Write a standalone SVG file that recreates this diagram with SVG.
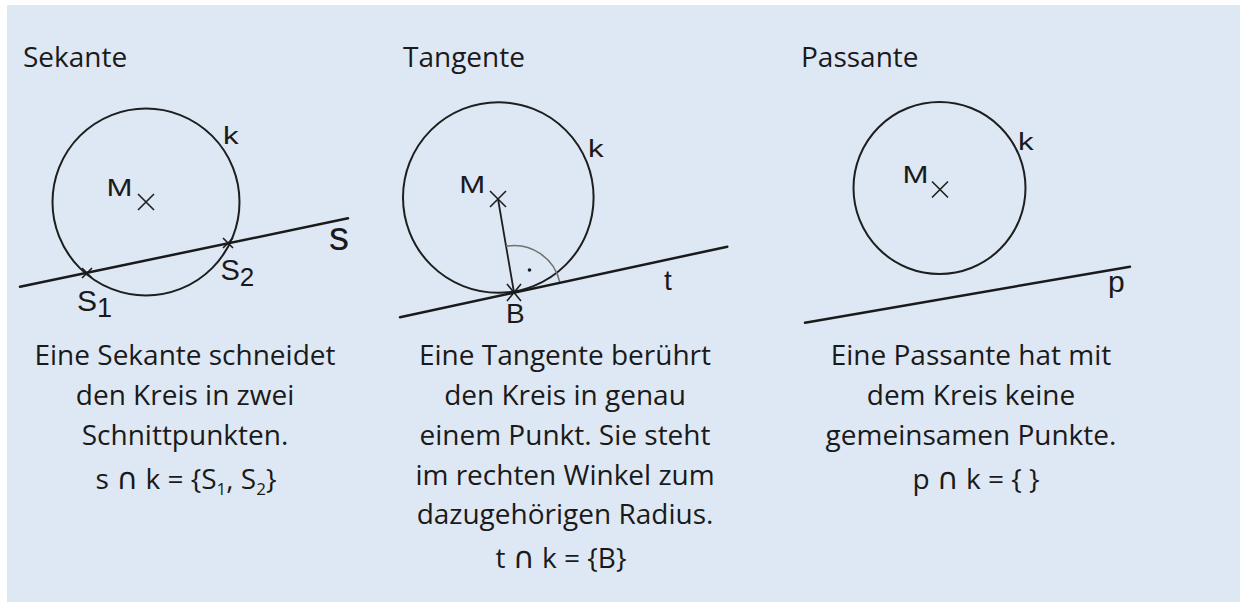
<svg xmlns="http://www.w3.org/2000/svg" width="1246" height="602" viewBox="0 0 1246 602">
<style>
.bg{fill:#dee8f4}
.title,.body{font-family:"Open Sans","Noto Sans","DejaVu Sans",sans-serif;fill:#1a1a1a}
.title{font-size:28px}
.body{font-size:28px;text-anchor:middle}
.sub{font-size:17px}
.cap{font-family:"DejaVu Sans",sans-serif;font-size:30px}
.lbl{font-family:"Liberation Sans",Arial,sans-serif;fill:#1a1a1a;font-size:28px}
.lbls{font-family:"Liberation Sans",Arial,sans-serif;fill:#1a1a1a;font-size:24px}
.circ{fill:none;stroke:#1e1e1e;stroke-width:2}
.ln{fill:none;stroke:#1a1a1a;stroke-width:2.5;stroke-linecap:round}
.x{fill:none;stroke:#1e1e1e;stroke-width:1.6}
.rad{fill:none;stroke:#1e1e1e;stroke-width:1.8}
.arc{fill:none;stroke:#707070;stroke-width:1.5}
</style>
<rect x="0" y="0" width="1246" height="602" fill="#ffffff"/>
<rect class="bg" x="7" y="5" width="1233" height="597"/>

<g id="sekante">
  <text class="title" x="23" y="67">Sekante</text>
  <circle class="circ" cx="146" cy="202" r="93.5"/>
  <path class="x" d="M138 194 L154 210 M154 194 L138 210"/>
  <text class="lbls" transform="translate(106.5,196) scale(1.3,1)">M</text>
  <text class="lbls" transform="translate(223,144) scale(1.3,1)">k</text>
  <path class="x" d="M82 268 L92 278 M92 268 L82 278 M223 238 L233 248 M233 238 L223 248"/>
  <text class="lbl" x="77" y="311" style="font-size:30px">S<tspan style="font-size:27px" dy="6">1</tspan></text>
  <text class="lbl" x="220.5" y="280" style="font-size:29px">S<tspan style="font-size:26px" dy="6">2</tspan></text>
  <text class="lbl" x="329" y="250" style="font-size:40px">s</text>
  <text class="body" x="185" y="365">Eine Sekante schneidet</text>
  <text class="body" x="185" y="405">den Kreis in zwei</text>
  <text class="body" x="185" y="445">Schnittpunkten.</text>
  <text class="body" x="186" y="489">s <tspan class="cap">∩</tspan> k = {S<tspan class="sub" dy="6">1</tspan><tspan dy="-6">, S</tspan><tspan class="sub" dy="6">2</tspan><tspan dy="-6">}</tspan></text>
</g>

<g id="tangente">
  <text class="title" x="403" y="67">Tangente</text>
  <circle class="circ" cx="498.3" cy="197.5" r="95.3"/>
  <path class="x" d="M490 191 L506 207 M506 191 L490 207"/>
  <text class="lbls" transform="translate(459.2,193.3) scale(1.3,1)">M</text>
  <text class="lbls" transform="translate(588,156.7) scale(1.3,1)">k</text>
  <path class="rad" d="M498 199 L514 292.5"/>
  <path class="arc" d="M506.1 246.2 A47 47 0 0 1 559.9 282.6"/>
  <circle cx="529.5" cy="270" r="1.8" fill="#1a1a1a"/>
  <path class="x" d="M507 284 L521 301 M521 284 L507 301"/>
  <text class="lbl" x="506" y="323">B</text>
  <text class="lbl" x="664" y="290">t</text>
  <text class="body" x="565" y="365">Eine Tangente berührt</text>
  <text class="body" x="565" y="405">den Kreis in genau</text>
  <text class="body" x="565" y="445">einem Punkt. Sie steht</text>
  <text class="body" x="565" y="485">im rechten Winkel zum</text>
  <text class="body" x="565" y="524">dazugehörigen Radius.</text>
  <text class="body" x="561" y="568">t <tspan class="cap">∩</tspan> k = {B}</text>
</g>

<g id="passante">
  <text class="title" x="801" y="67">Passante</text>
  <circle class="circ" cx="939.5" cy="188" r="86"/>
  <path class="x" d="M932 181.5 L948 197.5 M948 181.5 L932 197.5"/>
  <text class="lbls" transform="translate(902.5,183.3) scale(1.3,1)">M</text>
  <text class="lbls" transform="translate(1018,150) scale(1.3,1)">k</text>
  <text class="lbl" x="1108" y="292" style="font-size:30px">p</text>
  <text class="body" x="971" y="365">Eine Passante hat mit</text>
  <text class="body" x="971" y="405">dem Kreis keine</text>
  <text class="body" x="971" y="445">gemeinsamen Punkte.</text>
  <text class="body" x="976" y="489">p <tspan class="cap">∩</tspan> k = { }</text>
</g>

<g id="connectors">
  <path class="ln" d="M20 286.7 L348 218.3"/>
  <path class="ln" d="M400 317.3 L727.3 246.7"/>
  <path class="ln" d="M805 322.7 L1130 266.7"/>
</g>
</svg>
